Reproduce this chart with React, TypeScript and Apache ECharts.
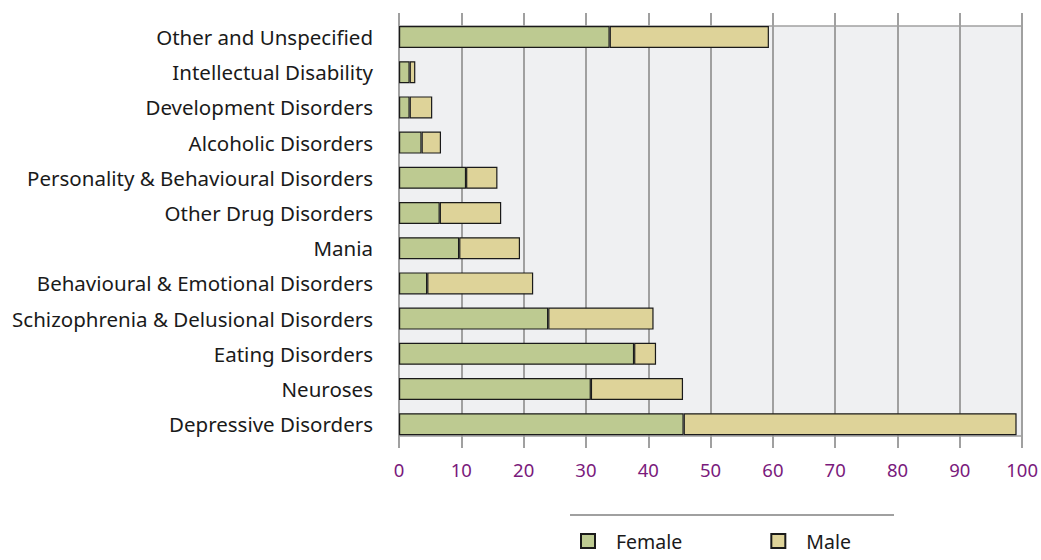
import React, { useEffect, useRef } from "react";
import * as echarts from "echarts";

const categories = [
  "Other and Unspecified",
  "Intellectual Disability",
  "Development Disorders",
  "Alcoholic Disorders",
  "Personality & Behavioural Disorders",
  "Other Drug Disorders",
  "Mania",
  "Behavioural & Emotional Disorders",
  "Schizophrenia & Delusional Disorders",
  "Eating Disorders",
  "Neuroses",
  "Depressive Disorders",
];
const female = [33.6, 1.7, 1.7, 3.6, 10.7, 6.5, 9.6, 4.5, 23.8, 37.5, 30.6, 45.4];
const male = [25.4, 0.9, 3.6, 3.1, 5.0, 9.8, 9.7, 16.9, 16.8, 3.5, 14.7, 53.1];
const xTicks = [0, 100];

const FONT = "'Noto Sans', 'Open Sans', sans-serif";

export default function App() {
  const ref = useRef<HTMLDivElement>(null);
  useEffect(() => {
    if (!ref.current) return;
    const chart = echarts.init(ref.current, undefined, { renderer: "svg" });
    const left = 399;
    const right = 1041 - 1026;
    chart.setOption({
      animation: false,
      backgroundColor: "#ffffff",
      grid: [
        { left, right, top: 19.4, height: 422.4, containLabel: false },
        {
          left,
          right,
          top: 26,
          height: 410,
          show: true,
          backgroundColor: "#eff0f2",
          borderWidth: 0,
        },
      ],
      xAxis: [
        { type: "value", gridIndex: 0, min: xTicks[0], max: xTicks[1], show: false },
        {
          type: "value",
          gridIndex: 1,
          min: xTicks[0],
          max: xTicks[1],
          interval: 10,
          position: "bottom",
          axisLine: { show: true, lineStyle: { color: "#a0a0a0", width: 1.5 } },
          axisTick: { show: true, length: 12, lineStyle: { color: "#a0a0a0", width: 2 } },
          axisLabel: { color: "#7a1a7c", fontSize: 18.5, fontFamily: FONT, margin: 24 },
          splitLine: { show: true, lineStyle: { color: "#a0a0a0", width: 2 } },
        },
        {
          type: "value",
          gridIndex: 1,
          min: xTicks[0],
          max: xTicks[1],
          interval: 10,
          position: "top",
          axisLine: { show: true, lineStyle: { color: "#a0a0a0", width: 1.5 } },
          axisTick: { show: true, length: 13, lineStyle: { color: "#a0a0a0", width: 2 } },
          axisLabel: { show: false },
          splitLine: { show: false },
        },
      ],
      yAxis: [
        {
          type: "category",
          gridIndex: 0,
          data: categories,
          inverse: true,
          axisLine: { show: false },
          axisTick: { show: false },
          axisLabel: { color: "#1a1a1a", fontSize: 20.5, fontFamily: FONT, margin: 26 },
        },
        { type: "value", gridIndex: 1, show: false },
      ],
      legend: {
        left: 580,
        top: 531,
        padding: 0,
        itemWidth: 14,
        itemHeight: 14,
        itemGap: 88,
        icon: "rect",
        textStyle: { color: "#1a1a1a", fontSize: 19.5, fontFamily: FONT, padding: [0, 0, 0, 16] },
        data: ["Female", "Male"],
      },
      graphic: [
        {
          type: "line",
          shape: { x1: 570, y1: 515, x2: 894, y2: 515 },
          style: { stroke: "#a0a0a0", lineWidth: 2 },
        },
      ],
      series: [
        {
          name: "Female",
          type: "bar",
          stack: "total",
          xAxisIndex: 0,
          yAxisIndex: 0,
          barWidth: 22,
          clip: false,
          itemStyle: { color: "#bdca91", borderColor: "#1a1a1a", borderWidth: 1.2 },
          data: female,
          z: 5,
        },
        {
          name: "Male",
          type: "bar",
          stack: "total",
          xAxisIndex: 0,
          yAxisIndex: 0,
          barWidth: 22,
          clip: false,
          itemStyle: { color: "#ded399", borderColor: "#1a1a1a", borderWidth: 1.2 },
          data: male,
          z: 5,
        },
      ],
    });
    return () => chart.dispose();
  }, []);
  return (
    <div
      ref={ref}
      style={{ position: "fixed", left: 0, top: 0, width: 1041, height: 560 }}
    />
  );
}
